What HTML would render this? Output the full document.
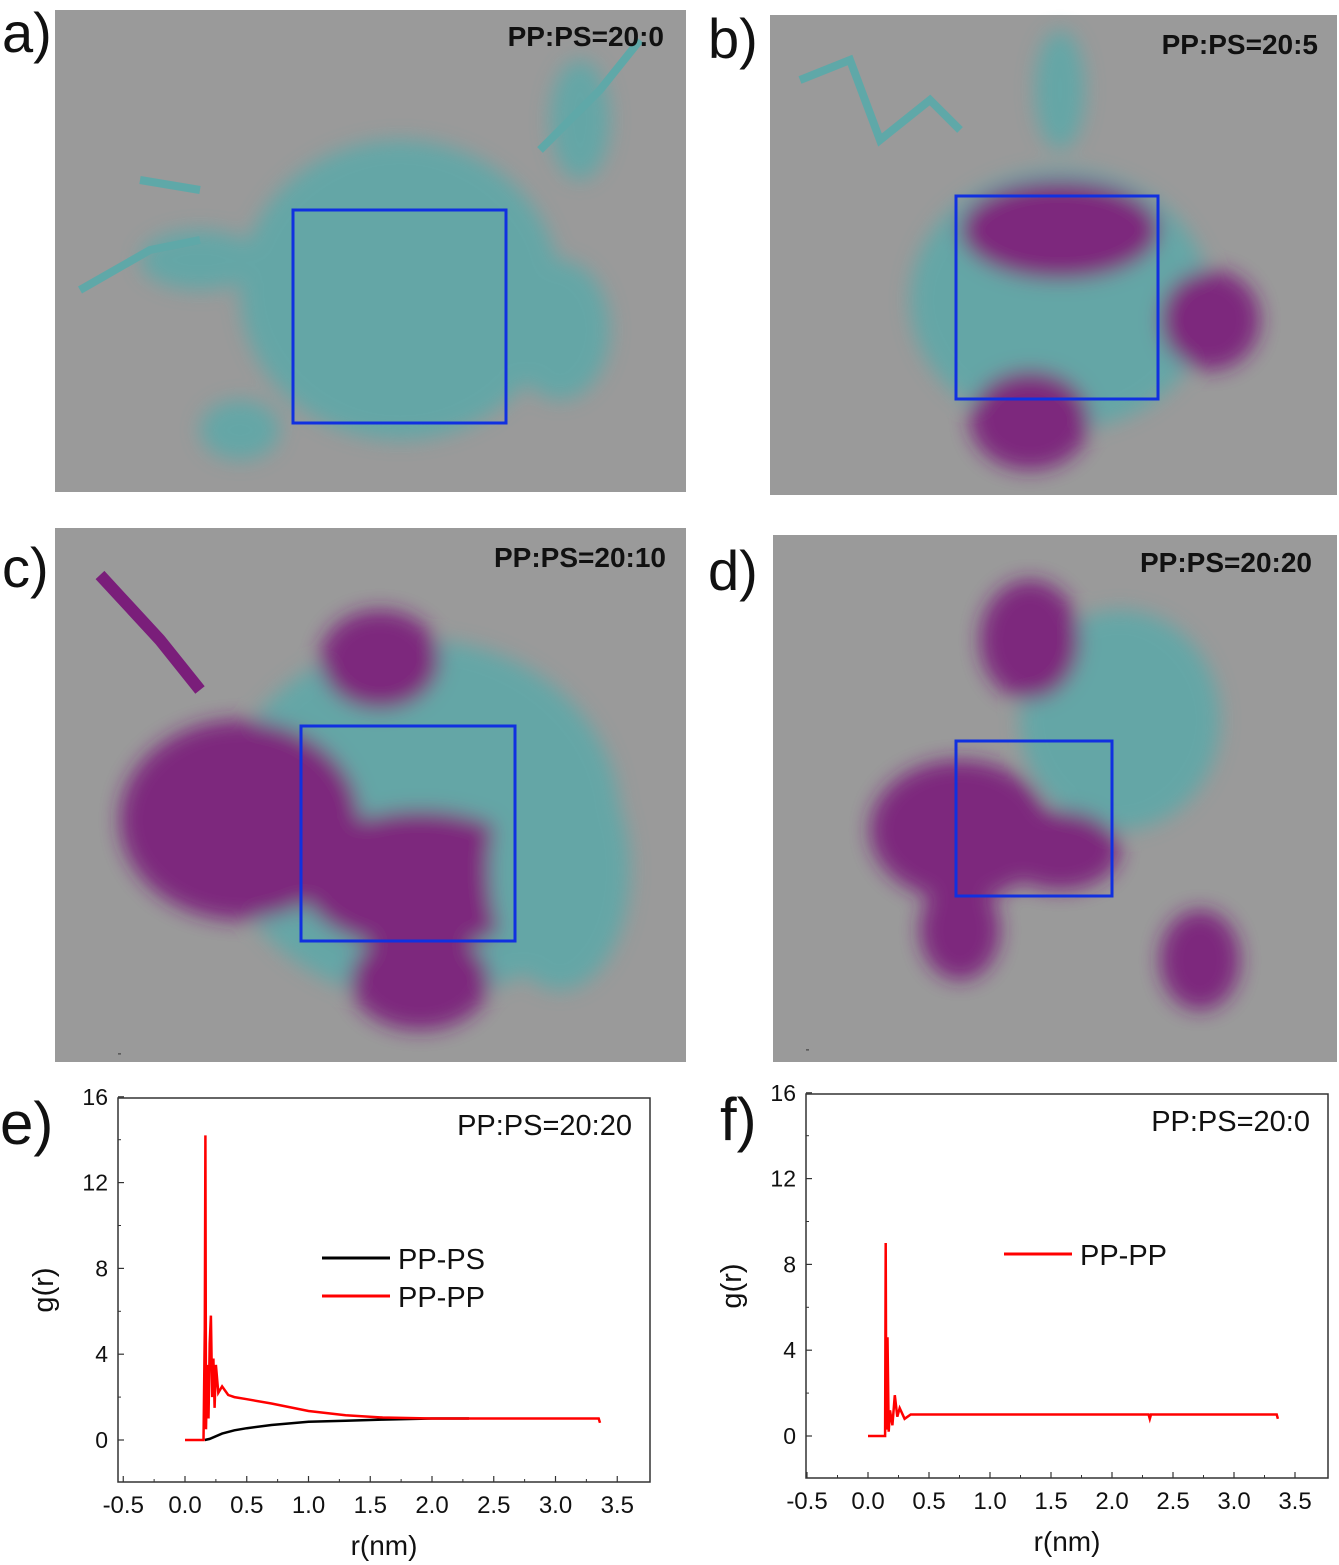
<!DOCTYPE html>
<html><head><meta charset="utf-8"><style>
body{margin:0;background:#fff;width:1339px;height:1565px;overflow:hidden;font-family:"Liberation Sans",sans-serif}
svg{position:absolute;left:0;top:0}
</style></head><body>
<svg width="1339" height="1565" id="fig">
<defs><filter id="bl" x="-20%" y="-20%" width="140%" height="140%"><feGaussianBlur stdDeviation="10"/></filter></defs>
<g>
<rect x="55" y="10" width="631" height="482" fill="#9a9a9a"/>
<g filter="url(#bl)" fill="#5fa8a8" opacity="0.9">
<ellipse cx="400" cy="290" rx="160" ry="150"/><ellipse cx="200" cy="260" rx="60" ry="30"/><ellipse cx="560" cy="330" rx="50" ry="70"/><ellipse cx="580" cy="120" rx="30" ry="60"/><ellipse cx="240" cy="430" rx="40" ry="30"/>
</g>
<path d="M80 290 L150 250 L200 240 M540 150 L600 90 L640 40 M140 180 L200 190" stroke="#5fa8a8" stroke-width="8" fill="none"/>
<rect x="293" y="210" width="213" height="213" fill="none" stroke="#1030e0" stroke-width="3"/>
<text x="664" y="46" font-size="28" text-anchor="end" font-weight="bold" fill="#111">PP:PS=20:0</text>
<text x="2" y="52" font-size="56" fill="#111">a)</text>
</g>
<g>
<rect x="770" y="15" width="567" height="480" fill="#9a9a9a"/>
<g filter="url(#bl)" opacity="0.9">
<ellipse cx="1060" cy="300" rx="150" ry="130" fill="#5fa8a8"/><ellipse cx="1060" cy="230" rx="100" ry="50" fill="#7a1e7a"/><ellipse cx="1210" cy="320" rx="50" ry="50" fill="#7a1e7a"/><ellipse cx="1030" cy="420" rx="60" ry="50" fill="#7a1e7a"/><ellipse cx="1060" cy="90" rx="25" ry="60" fill="#5fa8a8"/>
</g>
<path d="M800 80 L850 60 L880 140 L930 100 L960 130" stroke="#5fa8a8" stroke-width="8" fill="none"/>
<rect x="956" y="196" width="202" height="203" fill="none" stroke="#1030e0" stroke-width="3"/>
<text x="1318" y="54" font-size="28" text-anchor="end" font-weight="bold" fill="#111">PP:PS=20:5</text>
<text x="708" y="58" font-size="56" fill="#111">b)</text>
</g>
<g>
<rect x="55" y="528" width="631" height="534" fill="#9a9a9a"/>
<g filter="url(#bl)" opacity="0.9">
<ellipse cx="420" cy="820" rx="200" ry="180" fill="#5fa8a8"/><ellipse cx="240" cy="820" rx="120" ry="100" fill="#7a1e7a"/><ellipse cx="420" cy="880" rx="120" ry="70" fill="#7a1e7a"/><ellipse cx="380" cy="660" rx="60" ry="50" fill="#7a1e7a"/><ellipse cx="420" cy="980" rx="70" ry="50" fill="#7a1e7a"/><ellipse cx="560" cy="870" rx="70" ry="120" fill="#5fa8a8"/>
</g>
<path d="M100 575 L160 640 L200 690" stroke="#7a1e7a" stroke-width="12" fill="none"/>
<rect x="301" y="726" width="214" height="215" fill="none" stroke="#1030e0" stroke-width="3"/>
<text x="666" y="567" font-size="28" text-anchor="end" font-weight="bold" fill="#111">PP:PS=20:10</text>
<text x="2" y="587" font-size="56" fill="#111">c)</text>
</g>
<g>
<rect x="773" y="535" width="564" height="527" fill="#9a9a9a"/>
<g filter="url(#bl)" opacity="0.9">
<ellipse cx="1120" cy="720" rx="100" ry="110" fill="#5fa8a8"/><ellipse cx="1030" cy="640" rx="50" ry="60" fill="#7a1e7a"/><ellipse cx="960" cy="830" rx="90" ry="70" fill="#7a1e7a"/><ellipse cx="1060" cy="850" rx="60" ry="40" fill="#7a1e7a"/><ellipse cx="1200" cy="960" rx="40" ry="50" fill="#7a1e7a"/><ellipse cx="960" cy="930" rx="40" ry="50" fill="#7a1e7a"/>
</g>
<rect x="956" y="741" width="156" height="155" fill="none" stroke="#1030e0" stroke-width="3"/>
<text x="1312" y="572" font-size="28" text-anchor="end" font-weight="bold" fill="#111">PP:PS=20:20</text>
<text x="708" y="590" font-size="56" fill="#111">d)</text>
</g>
<g id="chartE"></g>
<g id="chartF"></g>
</svg>
<script>
const xTicks=["-0.5","0.0","0.5","1.0","1.5","2.0","2.5","3.0","3.5"];
const yTicks=["0","4","8","12","16"];
const eRedX=[0,0.15,0.16,0.165,0.17,0.18,0.19,0.2,0.21,0.22,0.23,0.24,0.25,0.27,0.3,0.35,0.4,0.5,0.7,1.0,1.3,1.6,2.0,2.5,3.0,3.35,3.36];
const eRedY=[0,0,5.2,14.2,0.5,3.5,1,4.5,5.8,2,3.8,1.5,3.5,2.2,2.5,2.1,2.0,1.9,1.7,1.35,1.15,1.05,1.0,1.0,1.0,1.0,0.8];
const eBlackX=[0.16,0.2,0.3,0.4,0.5,0.7,1.0,1.3,1.6,2.0,2.3];
const eBlackY=[0,0.05,0.3,0.45,0.55,0.7,0.85,0.9,0.95,1.0,1.0];
const fRedX=[0,0.14,0.145,0.15,0.16,0.17,0.18,0.2,0.22,0.24,0.26,0.3,0.35,0.4,1.0,2.0,2.3,2.31,2.32,3.0,3.35,3.36];
const fRedY=[0,0,9.0,0.3,4.6,0.2,1.2,0.5,1.9,0.9,1.3,0.8,1.0,1.0,1.0,1.0,1.0,0.8,1.0,1.0,1.0,0.8];
const NS="http://www.w3.org/2000/svg";
function mk(p,t,a){const e=document.createElementNS(NS,t);for(const k in a)e.setAttribute(k,a[k]);p.appendChild(e);return e;}
function chart(g,box,x0px,xs,y0px,ys,series,label,legend,letter,lx){
 const X=v=>x0px+v*xs, Y=v=>y0px-v*ys;
 const r=mk(g,'rect',{x:box[0],y:box[1],width:box[2]-box[0],height:box[3]-box[1],fill:'none',stroke:'#333','stroke-width':1.5});
 
 
 xTicks.forEach((t,i)=>{const v=parseFloat(t);
  mk(g,'line',{x1:X(v),x2:X(v),y1:box[3],y2:box[3]-6,stroke:'#333','stroke-width':1.2});
  if(i<xTicks.length-1)mk(g,'line',{x1:X(v+0.25),x2:X(v+0.25),y1:box[3],y2:box[3]-3,stroke:'#333'});
  const tx=mk(g,'text',{x:X(v),y:box[3]+31,'font-size':24,'text-anchor':'middle',fill:'#111'});tx.textContent=t;
  
  });
 yTicks.forEach(t=>{const v=parseFloat(t);
  mk(g,'line',{x1:box[0],x2:box[0]+6,y1:Y(v),y2:Y(v),stroke:'#333','stroke-width':1.2});
  mk(g,'line',{x1:box[0],x2:box[0]+3,y1:Y(v+2),y2:Y(v+2),stroke:'#333'});
  const tx=mk(g,'text',{x:box[0]-10,y:Y(v)+8,'font-size':23,'text-anchor':'end',fill:'#111'});tx.textContent=t;
  
  });
 series.forEach(s=>{const d=s.x.map((v,i)=>(i?'L':'M')+X(v).toFixed(1)+' '+Y(s.y[i]).toFixed(1)).join(' ');
  const p=mk(g,'path',{d:d,fill:'none',stroke:s.c,'stroke-width':2.5});
  
  });
 legend.forEach((l,i)=>{mk(g,'line',{x1:l.x,x2:l.x+68,y1:l.y,y2:l.y,stroke:l.c,'stroke-width':3});
  const t=mk(g,'text',{x:l.x+76,y:l.y+11,'font-size':29,fill:'#111'});t.textContent=l.t;
  
  });
 const tl=mk(g,'text',{x:box[2]-18,y:box[1]+37,'font-size':29,'text-anchor':'end',fill:'#111'});tl.textContent=label;
 
 
 const xl=mk(g,'text',{x:(box[0]+box[2])/2,y:box[3]+73,'font-size':28,'text-anchor':'middle',fill:'#111'});xl.textContent='r(nm)';
 
 
 const yy=(box[1]+box[3])/2;
 const yl=mk(g,'text',{x:box[0]-65,y:yy,'font-size':29,'text-anchor':'middle',fill:'#111',transform:`rotate(-90 ${box[0]-65} ${yy})`});yl.textContent='g(r)';
 
 
 const lt=mk(g,'text',{x:lx,y:box[1]+46,'font-size':60,fill:'#111'});lt.textContent=letter;
 
 
}
chart(document.getElementById('chartE'),[118,1098,650,1482],185,123.5,1440,21.45,
 [{x:eBlackX,y:eBlackY,c:'#000',n:'pp-ps-line'},{x:eRedX,y:eRedY,c:'#f00',n:'pp-pp-line'}],
 'PP:PS=20:20',[{x:322,y:1258,c:'#000',t:'PP-PS'},{x:322,y:1296,c:'#f00',t:'PP-PP'}],'e)',0);
chart(document.getElementById('chartF'),[806,1094,1328,1478],868,122,1436,21.45,
 [{x:fRedX,y:fRedY,c:'#f00',n:'pp-pp-line'}],
 'PP:PS=20:0',[{x:1004,y:1254,c:'#f00',t:'PP-PP'}],'f)',720);
</script>
</body></html>
